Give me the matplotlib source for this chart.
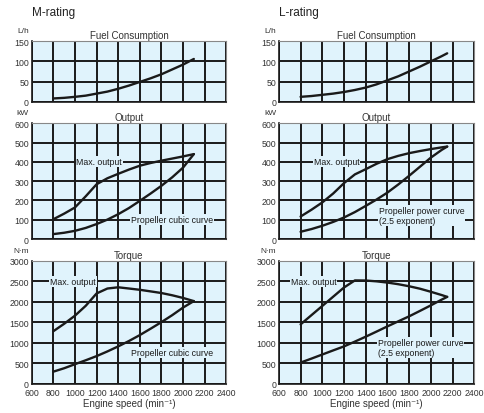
import numpy as np
import matplotlib.pyplot as plt

plt.rcParams['font.family'] = ['Liberation Sans', 'DejaVu Sans']

BG = '#e0f3fc'

# engine speed (min-1)
speed_m = [800, 900, 1000, 1100, 1200, 1300, 1400, 1500, 1600, 1700, 1800, 1900, 2000, 2100]
speed_l = [800, 900, 1000, 1100, 1200, 1300, 1400, 1500, 1600, 1700, 1800, 1900, 2000, 2100, 2150]

# fuel consumption (L/h)
fuel_m = [8, 9.5, 12, 15, 20, 25, 32, 40, 49, 58, 68, 80, 92, 106]
fuel_l = [12, 14, 17, 20, 24, 29, 35, 43, 53, 63, 75, 87, 100, 113, 120]

# output (kW)
max_out_m = [103, 132, 164, 222, 284, 315, 338, 360, 380, 394, 406, 417, 428, 440]
prop_out_m = [26, 33, 43, 58, 78, 101, 129, 161, 198, 236, 276, 320, 370, 440]

max_out_l = [117, 152, 190, 236, 290, 335, 362, 390, 414, 431, 445, 456, 466, 475, 479]
prop_out_l = [38, 52, 69, 89, 112, 140, 172, 205, 241, 283, 328, 375, 422, 462, 479]

# torque (N-m)
max_tq_m = [1279, 1460, 1658, 1900, 2200, 2320, 2350, 2320, 2289, 2250, 2210, 2155, 2090, 2013]
prop_tq_m = [292, 375, 474, 570, 671, 785, 908, 1040, 1184, 1340, 1500, 1670, 1855, 2013]

max_tq_l = [1445, 1670, 1895, 2120, 2345, 2518, 2515, 2495, 2465, 2425, 2375, 2315, 2240, 2160, 2116]
prop_tq_l = [513, 610, 710, 810, 908, 1025, 1145, 1270, 1397, 1520, 1642, 1775, 1910, 2050, 2116]

x_ticks = list(range(600, 2401, 200))


def style_axes(ax, ymax, ystep, unit, title, show_x):
    ax.set_facecolor(BG)
    ax.set_xlim(600, 2400)
    ax.set_ylim(0, ymax)
    ax.set_xticks(x_ticks)
    ax.set_yticks(np.arange(0, ymax + 1, ystep))
    ax.grid(True, color='#1a1a1a', linewidth=1.4)
    ax.set_axisbelow(True)
    ax.tick_params(length=0, labelsize=6.3, pad=2, colors='#333333')
    ax.tick_params(axis='x', pad=3)
    if not show_x:
        ax.set_xticklabels([])
    else:
        ax.set_xlabel('Engine speed (min⁻¹)', fontsize=7, color='#333333', labelpad=1)
    for s in ['top', 'right']:
        ax.spines[s].set_color('#888888')
        ax.spines[s].set_linewidth(0.8)
    for s in ['left', 'bottom']:
        ax.spines[s].set_color('#1a1a1a')
        ax.spines[s].set_linewidth(1.2)
    ax.set_title(title, fontsize=7, color='#333333', pad=2)
    ax.annotate(unit, xy=(0, 1), xycoords='axes fraction', xytext=(-2, 5),
                textcoords='offset points', fontsize=6, color='#333333',
                va='bottom', ha='right')


def label(ax, x, y, s, ha='center'):
    ax.text(x, y, s, fontsize=6.3, ha=ha, va='center', color='#1a1a1a',
            multialignment='left', zorder=5,
            bbox=dict(facecolor=BG, edgecolor='none', pad=0.6))


fig = plt.figure(figsize=(4.85, 4.14), dpi=100)
lefts = [0.0655, 0.575]
widths = [0.401, 0.403]

line_kw = dict(color='#1a1a1a', linewidth=1.7, zorder=4,
               solid_joinstyle='round', solid_capstyle='round')

for col in range(2):
    l = lefts[col]
    w = widths[col]
    ax_f = fig.add_axes([l, 0.752, w, 0.146])
    ax_o = fig.add_axes([l, 0.420, w, 0.280])
    ax_t = fig.add_axes([l, 0.071, w, 0.297])
    style_axes(ax_f, 150, 50, 'L/h', 'Fuel Consumption', False)
    style_axes(ax_o, 600, 100, 'kW', 'Output', False)
    style_axes(ax_t, 3000, 500, 'N·m', 'Torque', True)

    if col == 0:
        ax_f.plot(speed_m, fuel_m, **line_kw)
        ax_o.plot(speed_m, max_out_m, **line_kw)
        ax_o.plot(speed_m, prop_out_m, **line_kw)
        ax_t.plot(speed_m, max_tq_m, **line_kw)
        ax_t.plot(speed_m, prop_tq_m, **line_kw)
        label(ax_o, 1225, 400, 'Max. output')
        label(ax_o, 1900, 100, 'Propeller cubic curve')
        label(ax_t, 980, 2500, 'Max. output')
        label(ax_t, 1900, 760, 'Propeller cubic curve')
        fig.text(l, 0.955, 'M-rating', fontsize=8.5, color='#222222', va='bottom')
    else:
        ax_f.plot(speed_l, fuel_l, **line_kw)
        ax_o.plot(speed_l, max_out_l, **line_kw)
        ax_o.plot(speed_l, prop_out_l, **line_kw)
        ax_t.plot(speed_l, max_tq_l, **line_kw)
        ax_t.plot(speed_l, prop_tq_l, **line_kw)
        label(ax_o, 1130, 400, 'Max. output')
        label(ax_o, 1518, 123, 'Propeller power curve\n(2.5 exponent)', ha='left')
        label(ax_t, 920, 2500, 'Max. output')
        label(ax_t, 1510, 880, 'Propeller power curve\n(2.5 exponent)', ha='left')
        fig.text(l, 0.955, 'L-rating', fontsize=8.5, color='#222222', va='bottom')

fig.savefig('out.png', dpi=100)
